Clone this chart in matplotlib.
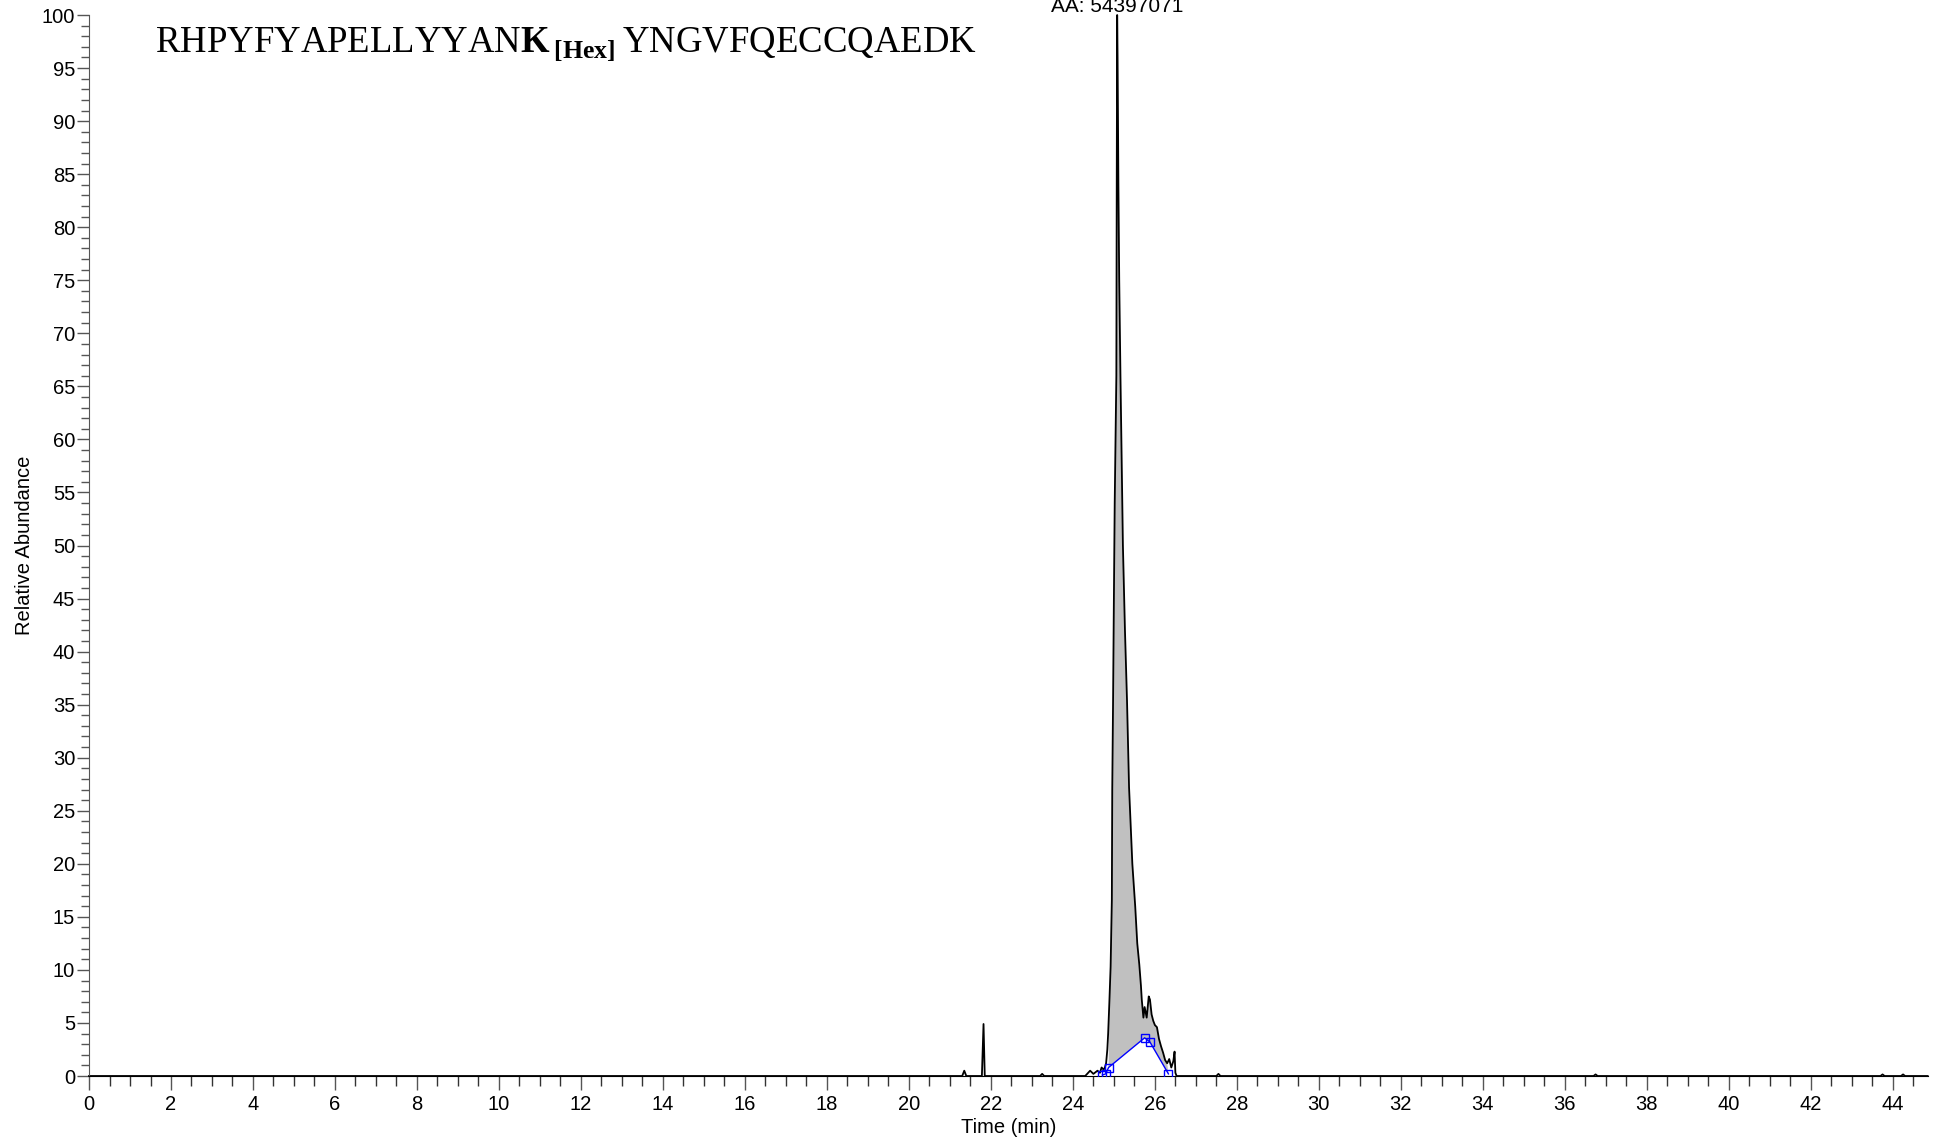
import matplotlib
matplotlib.use("Agg")
import matplotlib.pyplot as plt
from matplotlib.ticker import MultipleLocator

# chromatogram trace (time in min, relative abundance in %)
time_min = [0.0, 21.30, 21.35, 21.40, 21.78, 21.82, 21.85, 23.20, 23.25, 23.30,
            24.30, 24.42, 24.50, 24.60, 24.66, 24.70, 24.75, 24.78, 24.81, 24.84,
            24.86, 24.89, 24.92, 24.95, 24.96, 24.98, 25.00, 25.02, 25.04, 25.06,
            25.07, 25.08, 25.09, 25.10, 25.11, 25.13, 25.16, 25.19, 25.22, 25.27,
            25.32, 25.37, 25.45, 25.52, 25.57, 25.62, 25.66, 25.68, 25.72, 25.75,
            25.80, 25.85, 25.88, 25.92, 25.96, 26.00, 26.05, 26.10, 26.15, 26.20,
            26.25, 26.30, 26.35, 26.40, 26.45, 26.48, 26.50, 26.53, 27.50, 27.55,
            27.60, 36.70, 36.75, 36.80, 43.70, 43.75, 43.80, 44.20, 44.25, 44.30,
            44.85]
rel_abund = [0, 0, 0.5, 0, 0, 4.9, 0, 0, 0.2, 0,
             0, 0.5, 0.2, 0.5, 0.3, 0.8, 0.6, 0.8, 1.2, 2.5,
             4.0, 7.0, 10.3, 16.6, 27.0, 35.4, 45.0, 54.0, 60.0, 66.0,
             85.0, 100.0, 96.0, 90.0, 84.0, 75.0, 66.0, 58.0, 50.0, 42.0,
             35.4, 27.2, 20.0, 16.0, 12.5, 10.5, 8.5, 7.2, 5.5, 6.5,
             5.5, 7.5, 7.2, 5.8, 5.2, 4.8, 4.6, 3.5, 2.8, 2.2,
             1.5, 1.2, 1.6, 0.8, 1.4, 2.3, 0.3, 0, 0, 0.2,
             0, 0, 0.15, 0, 0, 0.15, 0, 0, 0.15, 0,
             0]
assert len(time_min) == len(rel_abund)

# integration baseline points
bl_time = [24.72, 24.80, 24.87, 25.75, 25.88, 26.33]
bl_val = [0.1, 0.2, 0.8, 3.6, 3.2, 0.2]

peak_time = 25.08
peak_label = "AA: 54397071"
title = r"RHPYFYAPELLYYAN$\mathbf{K}_{\,\mathbf{[Hex]}}\,$YNGVFQECCQAEDK"

plt.rcParams["font.family"] = "Liberation Sans"
plt.rcParams["mathtext.fontset"] = "custom"
plt.rcParams["mathtext.rm"] = "Liberation Serif"
plt.rcParams["mathtext.bf"] = "Liberation Serif:bold"

fig = plt.figure(figsize=(19.35, 11.47), dpi=100)
ax = fig.add_axes([0.046, 0.0619, 0.9962 - 0.046, 0.9869 - 0.0619])

# gray area between trace and integration baseline
fill_t = [t for t in time_min if bl_time[2] <= t <= bl_time[-1]]
fill_v = [v for t, v in zip(time_min, rel_abund) if bl_time[2] <= t <= bl_time[-1]]
ax.fill(fill_t + bl_time[:1:-1], fill_v + bl_val[:1:-1], color="#c0c0c0", lw=0, zorder=1)

ax.plot(time_min, rel_abund, color="black", lw=1.3, zorder=2, clip_on=False)
ax.plot(bl_time, bl_val, color="#0000ff", lw=1.0, marker="s", markersize=6,
        markerfacecolor="none", markeredgewidth=1.0, zorder=3)

ax.annotate(peak_label, xy=(peak_time, 100), xytext=(0, 3), textcoords="offset pixels",
            ha="center", va="baseline", fontsize=15, annotation_clip=False)

fig.text(155 / 1935, 1 - 52 / 1147, title, family="Liberation Serif", fontsize=26.5,
         ha="left", va="baseline")

ax.set_xlim(0, 44.85)
ax.set_ylim(0, 100)
ax.xaxis.set_major_locator(MultipleLocator(2))
ax.xaxis.set_minor_locator(MultipleLocator(0.5))
ax.yaxis.set_major_locator(MultipleLocator(5))
ax.yaxis.set_minor_locator(MultipleLocator(1))

ax.spines["top"].set_visible(False)
ax.spines["right"].set_visible(False)
ax.spines["left"].set_color("#555555")
ax.spines["bottom"].set_color("black")

ax.tick_params(axis="x", which="major", length=10, width=1, color="#555555", pad=4, labelsize=14.5)
ax.tick_params(axis="x", which="minor", length=7, width=1, color="#333333")
ax.tick_params(axis="y", which="major", length=9, width=1, color="#555555", pad=1, labelsize=14.5)
ax.tick_params(axis="y", which="minor", length=5.5, width=1, color="#555555")

ax.set_xlabel("Time (min)", fontsize=14.5)
ax.set_ylabel("Relative Abundance", fontsize=14.5)
ax.xaxis.set_label_coords(0.5, -0.040)
ax.yaxis.set_label_coords(-0.030, 0.5)

fig.savefig("out.png", dpi=100)
